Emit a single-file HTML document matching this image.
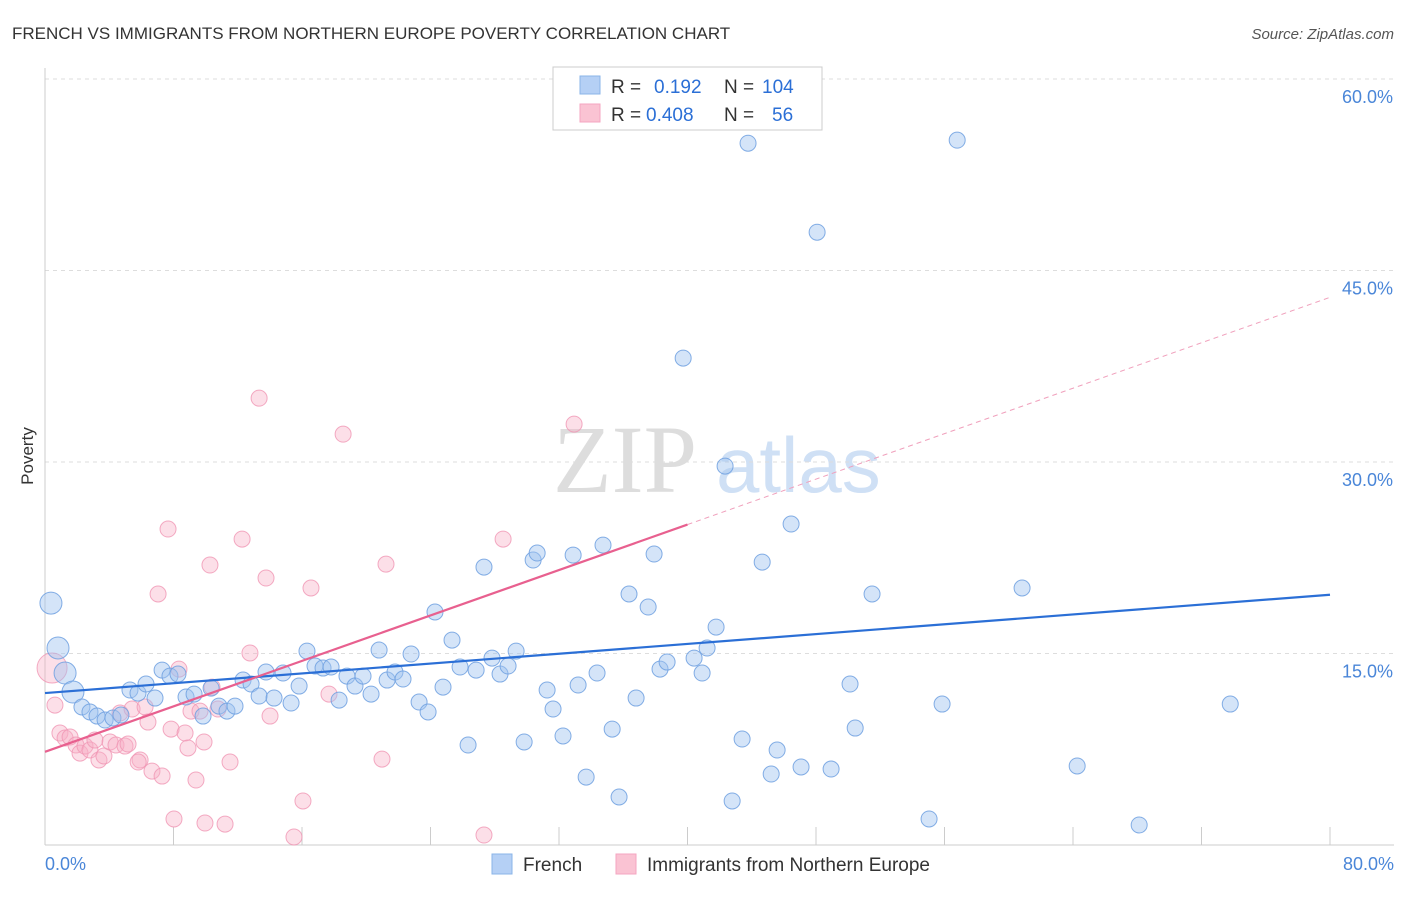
<!DOCTYPE html>
<html><head><meta charset="utf-8"><style>
body{margin:0;background:#fff;font-family:"Liberation Sans",sans-serif}
svg text{font-family:"Liberation Sans",sans-serif}
</style></head><body>
<svg id="c" width="1406" height="892" xmlns="http://www.w3.org/2000/svg">
<text x="12" y="39" font-size="17" fill="#333">FRENCH VS IMMIGRANTS FROM NORTHERN EUROPE POVERTY CORRELATION CHART</text>
<text x="1394" y="39" font-size="15" fill="#555" text-anchor="end" font-style="italic">Source: ZipAtlas.com</text>
<text x="0" y="0" transform="translate(33,456) rotate(-90)" font-size="17" fill="#333" text-anchor="middle">Poverty</text>
<g><text x="553" y="492" font-size="96" fill="#ddd" font-family="Liberation Serif" style="font-family:'Liberation Serif',serif">ZIP</text><text x="716" y="492" font-size="78" fill="#cfe0f5">atlas</text></g>
<g id="grid"></g><g id="marks"></g>
<g>
<rect x="553" y="67" width="269" height="63" fill="#fff" stroke="#ccc"/>
<rect x="580" y="76" width="20" height="18" fill="#b5d0f5" stroke="#8ab4e8"/>
<rect x="580" y="104" width="20" height="18" fill="#fac3d3" stroke="#f4a6c0"/>
<text x="611" y="93" font-size="19" fill="#333">R = <tspan fill="#2b6fd6" x="654">0.192</tspan><tspan fill="#333" x="724">N = </tspan><tspan fill="#2b6fd6" x="762">104</tspan></text>
<text x="611" y="121" font-size="19" fill="#333">R = <tspan fill="#2b6fd6" x="646">0.408</tspan><tspan fill="#333" x="724">N = </tspan><tspan fill="#2b6fd6" x="772">56</tspan></text>
</g>
<g>
<rect x="492" y="854" width="20" height="20" fill="#b5d0f5" stroke="#8ab4e8"/>
<text x="523" y="871" font-size="19" fill="#333">French</text>
<rect x="616" y="854" width="20" height="20" fill="#fac3d3" stroke="#f4a6c0"/>
<text x="647" y="871" font-size="19" fill="#333">Immigrants from Northern Europe</text>
</g>
</svg>
<script>
const yTicks=[15,30,45,60];
const yTickLabels=["15.0%","30.0%","45.0%","60.0%"];
const xTicks=[0,8,16,24,32,40,48,56,64,72,80];
const xEndLabels=["0.0%","80.0%"];
const frenchX=[0.37,0.81,1.25,1.74,2.30,2.80,3.24,3.74,4.23,4.73,5.29,5.79,6.29,6.85,7.29,7.78,8.28,8.78,9.28,9.84,10.34,10.83,11.33,11.83,12.33,12.83,13.33,13.76,14.26,14.82,15.32,15.82,16.31,16.81,17.31,17.81,18.31,18.80,19.30,19.80,20.30,20.80,21.30,21.79,22.29,22.79,23.29,23.85,24.28,24.78,25.34,25.84,26.34,26.84,27.33,27.83,28.33,28.83,29.33,29.83,30.39,30.64,31.26,31.63,32.25,32.88,33.19,33.69,34.37,34.74,35.31,35.74,36.36,36.80,37.55,37.92,38.29,38.73,39.73,40.41,40.91,41.22,41.78,42.34,42.78,43.40,43.77,44.65,45.21,45.58,46.45,47.07,48.07,48.94,50.12,50.44,51.49,55.04,55.85,56.79,60.83,64.26,68.12,73.79];
const frenchY=[18.95,15.43,13.47,11.98,10.81,10.42,10.10,9.79,9.95,10.18,12.14,11.90,12.61,11.51,13.70,13.23,13.39,11.59,11.82,10.10,12.29,10.88,10.49,10.88,12.92,12.61,11.67,13.55,11.51,13.47,11.12,12.45,15.19,14.02,13.86,13.94,11.35,13.23,12.45,13.23,11.82,15.27,12.92,13.55,13.0,14.96,11.20,10.42,18.25,12.37,16.05,13.94,7.83,13.70,21.77,14.64,13.39,14.02,15.19,8.07,22.32,22.87,12.14,10.65,8.54,22.71,12.53,5.32,13.47,23.49,9.08,3.76,19.66,11.51,18.64,22.79,13.78,14.33,38.14,14.64,13.47,15.43,17.07,29.68,3.45,8.30,54.97,22.16,5.56,7.44,25.14,6.11,48.0,5.95,12.61,9.16,19.66,2.04,11.04,55.21,20.13,6.19,1.57,11.04];
const immX=[0.44,0.62,0.93,1.25,1.56,1.93,2.18,2.49,2.80,3.11,3.36,3.67,4.05,4.42,4.67,4.98,5.17,5.42,5.92,6.23,6.41,6.66,7.04,7.29,7.66,7.85,8.03,8.72,8.90,9.09,9.40,9.65,9.90,9.96,10.27,10.40,10.77,11.21,11.52,12.27,12.76,13.33,13.76,14.01,15.50,16.06,16.56,17.68,18.56,20.98,21.23,27.33,28.52,32.94,8.34,5.8];
const immY=[13.86,10.96,8.77,8.38,8.46,7.83,7.20,7.75,7.44,8.22,6.66,6.97,8.07,7.83,10.34,7.75,7.91,10.65,6.66,10.81,9.63,5.79,19.66,5.40,24.75,9.08,2.04,8.77,7.60,10.49,5.09,10.49,8.07,1.72,21.93,12.37,10.65,1.64,6.50,23.96,15.04,35.0,20.91,10.10,0.63,3.45,20.13,11.82,32.18,6.73,22.0,0.78,23.96,32.97,13.78,6.5];
const frenchTrend=[11.9,19.6];
const immTrend=[7.3,25.1,42.9];
const X0=45,X1=1330,Y0=845,Y60=79;
const sx=v=>X0+(X1-X0)*v/80;
const sy=v=>Y0-(Y0-Y60)*v/60;
const NS="http://www.w3.org/2000/svg";
function mk(tag,attrs,parent){const e=document.createElementNS(NS,tag);for(const k in attrs)e.setAttribute(k,attrs[k]);parent.appendChild(e);return e;}
const grid=document.getElementById('grid'),marks=document.getElementById('marks');
yTicks.forEach((t,i)=>{
 const l=mk('line',{x1:X0,x2:1394,y1:sy(t),y2:sy(t),stroke:'#ddd','stroke-dasharray':'4,4'},grid);
 
 
 const tx=mk('text',{x:1393,y:sy(t)+24,'font-size':18,fill:'#4a86d8','text-anchor':'end'},grid);
 tx.textContent=yTickLabels[i];
 
 
});
const ax=mk('line',{x1:X0,x2:X0,y1:68,y2:Y0,stroke:'#ccc'},grid);


const bx=mk('line',{x1:X0,x2:1394,y1:Y0,y2:Y0,stroke:'#ccc'},grid);


xTicks.forEach(t=>{
 const l=mk('line',{x1:sx(t),x2:sx(t),y1:Y0,y2:Y0-18,stroke:'#ccc'},grid);
 
 
});
[[0,'start',45],[80,'end',1394]].forEach((d,i)=>{
 const tx=mk('text',{x:d[2],y:870,'font-size':18,fill:'#4a86d8','text-anchor':d[1]},grid);
 tx.textContent=xEndLabels[i];
 
 
});
immX.forEach((x,i)=>{
 const c=mk('circle',{cx:sx(x),cy:sy(immY[i]),r:i==0?15:8,fill:'rgba(248,175,198,0.4)',stroke:'rgba(240,150,180,0.8)','stroke-width':1},marks);
 
 
});
frenchX.forEach((x,i)=>{
 const c=mk('circle',{cx:sx(x),cy:sy(frenchY[i]),r:i<4?11:8,fill:'rgba(160,196,240,0.45)',stroke:'rgba(110,160,225,0.85)','stroke-width':1},marks);
 
 
});
const fl=mk('line',{x1:sx(0),y1:sy(frenchTrend[0]),x2:sx(80),y2:sy(frenchTrend[1]),stroke:'#2b6fd6','stroke-width':2.2},marks);


const il=mk('line',{x1:sx(0),y1:sy(immTrend[0]),x2:sx(40),y2:sy(immTrend[1]),stroke:'#e8608f','stroke-width':2.2},marks);


const id=mk('line',{x1:sx(40),y1:sy(immTrend[1]),x2:sx(80),y2:sy(immTrend[2]),stroke:'#f0a0bc','stroke-width':1,'stroke-dasharray':'5,4'},marks);


</script>
</body></html>
